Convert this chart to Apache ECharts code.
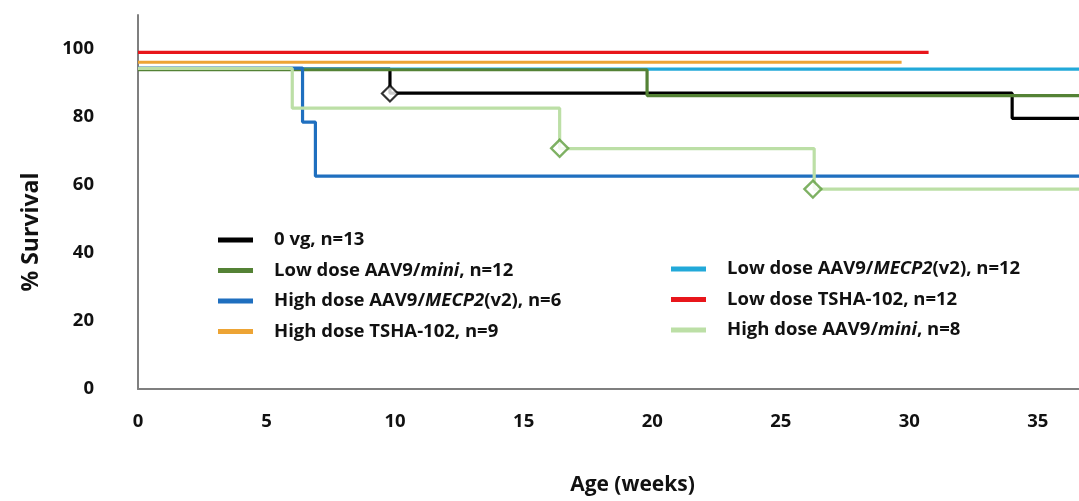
<!DOCTYPE html>
<html>
<head>
<meta charset="utf-8">
<script src="https://cdn.jsdelivr.net/npm/echarts@6/dist/echarts.min.js"></script>
<style>
  html, body { margin: 0; padding: 0; background: #fff; }
  #chart { width: 1079px; height: 501px; }
</style>
</head>
<body>
<div id="chart"></div>
<script>
// Kaplan–Meier survival curves: [age in weeks, % survival] at each step
const ctrl0vg   = [[0, 94.1], [9.8, 87.0], [34.0, 79.6], [36.6, 79.6]];
const lowMini   = [[0, 93.9], [19.8, 86.3], [36.6, 86.3]];
const highMecp2 = [[0, 94.4], [6.4, 78.5], [6.9, 62.6], [36.6, 62.6]];
const highTsha  = [[0, 96.1], [29.7, 96.1]];
const lowMecp2  = [[0, 94.1], [36.6, 94.1]];
const lowTsha   = [[0, 99.0], [30.75, 99.0]];
const highMini  = [[0, 94.3], [6.0, 82.6], [16.4, 70.7], [26.3, 58.8], [36.6, 58.8]];

// censored animals (open diamonds)
const censorCtrl = [[9.8, 86.9]];
const censorHighMini = [[16.4, 70.8], [26.25, 58.8]];

const groupNames = [
  '0 vg, n=13',
  'Low dose AAV9/mini, n=12',
  'High dose AAV9/MECP2(v2), n=6',
  'High dose TSHA-102, n=9',
  'Low dose AAV9/MECP2(v2), n=12',
  'Low dose TSHA-102, n=12',
  'High dose AAV9/mini, n=8'
];
const groupData = [ctrl0vg, lowMini, highMecp2, highTsha, lowMecp2, lowTsha, highMini];
const groupColors = ['#000000', '#548235', '#1F6FBF', '#EDA435', '#22A9D9', '#E8161B', '#BCDFA6'];
const groupZ = [1, 3, 4, 6, 2, 7, 5];

const FONT = '"Open Sans", "Noto Sans", sans-serif';

const lineSeries = groupNames.map((name, i) => ({
  name: name,
  type: 'line',
  step: 'end',
  data: groupData[i],
  showSymbol: false,
  symbol: 'none',
  z: groupZ[i],
  lineStyle: { color: groupColors[i], width: 3.2 },
  itemStyle: { color: groupColors[i] },
  emphasis: { disabled: true },
  animation: false
}));

const censorSeries = [
  {
    type: 'scatter', data: censorCtrl, symbol: 'diamond', symbolSize: 16, z: 10,
    itemStyle: { color: '#ffffff', borderColor: '#000000', borderWidth: 2.2 },
    animation: false
  },
  {
    type: 'scatter', data: censorHighMini, symbol: 'diamond', symbolSize: 17, z: 10,
    itemStyle: { color: '#ffffff', borderColor: '#5E9E3C', borderWidth: 2.4 },
    animation: false
  }
];

// italicise gene / construct names inside legend labels
function legendFormatter(name) {
  const m = name.match(/^(.*\/)(mini|MECP2)(.*)$/);
  if (!m) return '{n|' + name + '}';
  return '{n|' + m[1] + '}{i|' + m[2] + '}{n|' + m[3] + '}';
}

const LEG_SIZE = 18.5;
const legendText = {
  fontFamily: FONT,
  fontSize: LEG_SIZE,
  fontWeight: 700,
  color: '#111',
  lineHeight: 22,
  padding: [0, 0, 0, 16],
  rich: {
    n: { fontFamily: FONT, fontSize: LEG_SIZE, fontWeight: 700, color: '#111', lineHeight: 22 },
    i: { fontFamily: FONT, fontSize: LEG_SIZE, fontWeight: 700, fontStyle: 'italic', color: '#111', lineHeight: 22 }
  }
};

const legendBase = {
  orient: 'vertical',
  icon: 'rect',
  itemWidth: 35,
  itemHeight: 5,
  itemGap: 8.5,
  selectedMode: false,
  formatter: legendFormatter,
  textStyle: legendText
};

const option = {
  backgroundColor: '#ffffff',
  animation: false,
  grid: { left: 138, top: 15, right: 0, bottom: 111, containLabel: false },
  legend: [
    Object.assign({}, legendBase, { left: 213, top: 224, data: groupNames.slice(0, 4) }),
    Object.assign({}, legendBase, { left: 666, top: 253, data: groupNames.slice(4) })
  ],
  xAxis: {
    type: 'value',
    min: 0,
    max: 36.6,
    interval: 5,
    name: 'Age (weeks)',
    nameLocation: 'middle',
    nameGap: 86,
    nameTextStyle: { fontFamily: FONT, fontSize: 21, fontWeight: 700, color: '#111', padding: [0, 0, 0, 48] },
    axisLine: { show: true, onZero: false, lineStyle: { color: '#7F7F7F', width: 2 } },
    axisTick: { show: false },
    splitLine: { show: false },
    axisLabel: {
      showMaxLabel: false,
      margin: 23,
      fontFamily: FONT, fontSize: 18.5, fontWeight: 700, color: '#111'
    }
  },
  yAxis: {
    type: 'value',
    min: 0,
    max: 110,
    interval: 20,
    name: '% Survival',
    nameLocation: 'middle',
    nameGap: 95,
    nameRotate: 90,
    nameTextStyle: { fontFamily: FONT, fontSize: 23, fontWeight: 700, color: '#111', padding: [0, 60, 0, 0] },
    axisLine: { show: true, lineStyle: { color: '#7F7F7F', width: 2 } },
    axisTick: { show: false },
    splitLine: { show: false },
    axisLabel: {
      showMaxLabel: false,
      margin: 44,
      fontFamily: FONT, fontSize: 18.5, fontWeight: 700, color: '#111'
    }
  },
  series: lineSeries.concat(censorSeries)
};

const chart = echarts.init(document.getElementById('chart'), null, { renderer: 'canvas' });
chart.setOption(option);
</script>
</body>
</html>
